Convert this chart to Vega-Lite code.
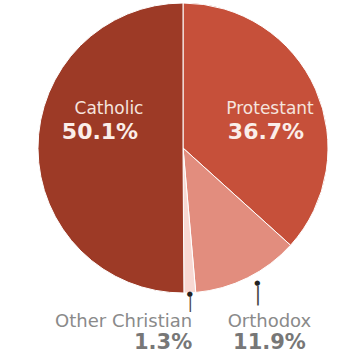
{
  "$schema": "https://vega.github.io/schema/vega-lite/v6.json",
  "width": 326,
  "height": 296,
  "autosize": {"type": "none"},
  "padding": {"left": 20, "top": 0, "right": 0, "bottom": 58},
  "background": "white",
  "view": {"stroke": null},
  "data": {"values": [
    {"religion": "Protestant", "share": 36.7, "label": "36.7%", "ord": 1},
    {"religion": "Orthodox", "share": 11.9, "label": "11.9%", "ord": 2},
    {"religion": "Other Christian", "share": 1.3, "label": "1.3%", "ord": 3},
    {"religion": "Catholic", "share": 50.1, "label": "50.1%", "ord": 4}
  ]},
  "encoding": {
    "theta": {"field": "share", "type": "quantitative", "stack": true},
    "order": {"field": "ord", "type": "quantitative"},
    "detail": {"field": "religion", "type": "nominal"}
  },
  "layer": [
    {
      "mark": {"type": "arc", "outerRadius": 145, "stroke": "#ffffff", "strokeWidth": 1},
      "encoding": {
        "color": {"field": "religion", "type": "nominal",
          "scale": {"domain": ["Catholic", "Protestant", "Orthodox", "Other Christian"],
                    "range": ["#9d3a26", "#c6503a", "#e28d7e", "#f8d8d2"]},
          "legend": null}
      }
    },
    {
      "mark": {"type": "text", "radius": 78, "dx": 4, "dy": -39, "font": "DejaVu Sans", "fontSize": 17, "color": "#f5e4de"},
      "encoding": {"text": {"condition": {"test": "datum.religion === 'Catholic'", "field": "religion", "type": "nominal"}, "value": ""}}
    },
    {
      "mark": {"type": "text", "radius": 78, "dx": -5, "dy": -16, "font": "DejaVu Sans", "fontSize": 22, "fontWeight": "bold", "color": "#fbeee9"},
      "encoding": {"text": {"condition": {"test": "datum.religion === 'Catholic'", "field": "label", "type": "nominal"}, "value": ""}}
    },
    {
      "mark": {"type": "text", "radius": 93, "dx": 2, "dy": -1, "font": "DejaVu Sans", "fontSize": 17, "color": "#f5e4de"},
      "encoding": {"text": {"condition": {"test": "datum.religion === 'Protestant'", "field": "religion", "type": "nominal"}, "value": ""}}
    },
    {
      "mark": {"type": "text", "radius": 93, "dx": -2, "dy": 22, "font": "DejaVu Sans", "fontSize": 22, "fontWeight": "bold", "color": "#fbeee9"},
      "encoding": {"text": {"condition": {"test": "datum.religion === 'Protestant'", "field": "label", "type": "nominal"}, "value": ""}}
    },
    {
      "mark": {"type": "text", "radius": 174, "dx": 1, "dy": 0, "align": "right", "font": "DejaVu Sans", "fontSize": 18, "color": "#8a8a8a"},
      "encoding": {"text": {"condition": {"test": "datum.religion === 'Other Christian'", "field": "religion", "type": "nominal"}, "value": ""}}
    },
    {
      "mark": {"type": "text", "radius": 174, "dx": 1, "dy": 21, "align": "right", "font": "DejaVu Sans", "fontSize": 21, "fontWeight": "bold", "color": "#777777"},
      "encoding": {"text": {"condition": {"test": "datum.religion === 'Other Christian'", "field": "label", "type": "nominal"}, "value": ""}}
    },
    {
      "mark": {"type": "text", "radius": 194, "dy": 0, "align": "center", "font": "DejaVu Sans", "fontSize": 18, "color": "#8a8a8a"},
      "encoding": {"text": {"condition": {"test": "datum.religion === 'Orthodox'", "field": "religion", "type": "nominal"}, "value": ""}}
    },
    {
      "mark": {"type": "text", "radius": 194, "dy": 21, "align": "center", "font": "DejaVu Sans", "fontSize": 21, "fontWeight": "bold", "color": "#777777"},
      "encoding": {"text": {"condition": {"test": "datum.religion === 'Orthodox'", "field": "label", "type": "nominal"}, "value": ""}}
    },
    {
      "mark": {"type": "text", "radius": 146, "font": "DejaVu Sans", "fontSize": 7, "color": "#222222"},
      "encoding": {"text": {"condition": {"test": "datum.religion === 'Other Christian'", "value": "●"}, "value": ""}}
    },
    {
      "mark": {"type": "text", "radius": 155, "font": "DejaVu Sans", "fontSize": 15, "color": "#444444"},
      "encoding": {"text": {"condition": {"test": "datum.religion === 'Other Christian'", "value": "|"}, "value": ""}}
    },
    {
      "mark": {"type": "text", "radius": 151, "dx": 7, "font": "DejaVu Sans", "fontSize": 7, "color": "#222222"},
      "encoding": {"text": {"condition": {"test": "datum.religion === 'Orthodox'", "value": "●"}, "value": ""}}
    },
    {
      "mark": {"type": "text", "radius": 164, "dx": 2, "font": "DejaVu Sans", "fontSize": 19, "color": "#444444"},
      "encoding": {"text": {"condition": {"test": "datum.religion === 'Orthodox'", "value": "|"}, "value": ""}}
    }
  ]
}
